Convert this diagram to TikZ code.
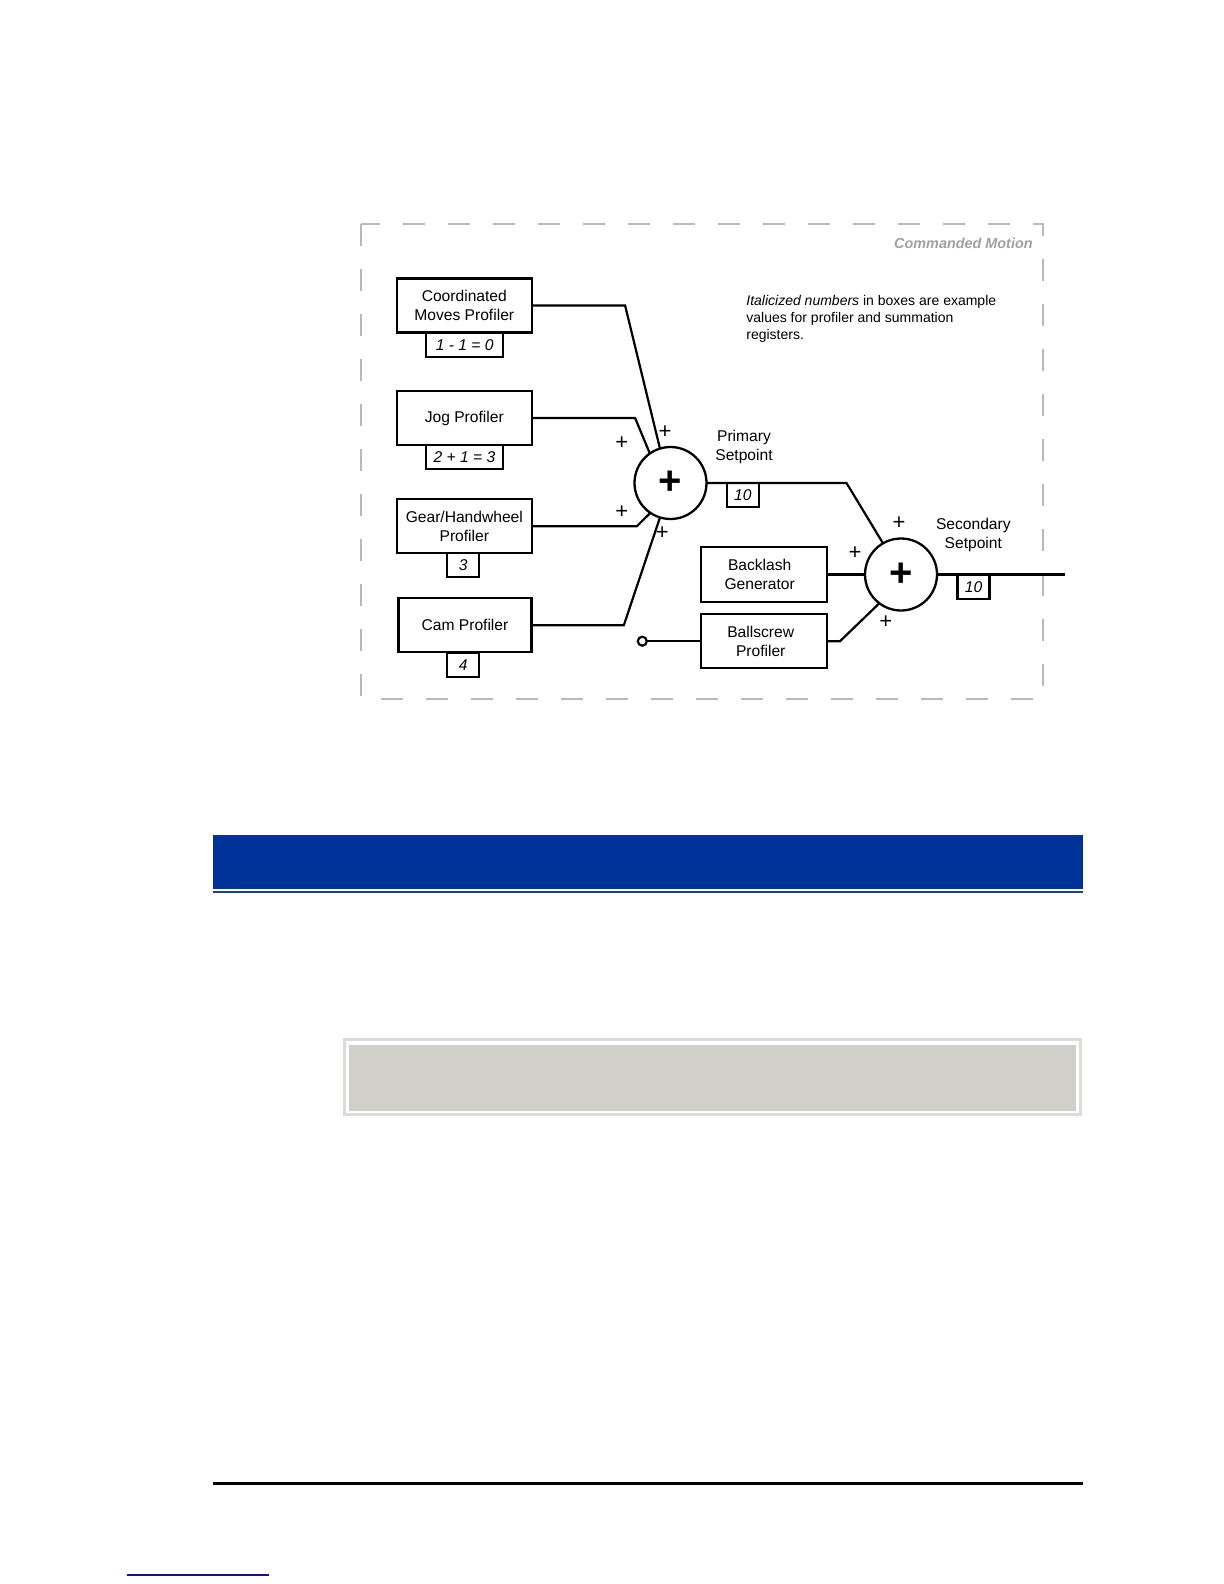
\documentclass[tikz,border=0pt]{standalone}
\usepackage{fontspec}
\setmainfont{Liberation Sans}
\newcommand\boxfont{\fontsize{7.8}{9.7}\selectfont}
\newcommand\notefont{\fontsize{7}{8.5}\selectfont}
\newcommand\cmfont{\fontsize{7.2}{8.5}\selectfont\bfseries\itshape}
\newcommand\plusfont{\fontsize{11}{11}\selectfont}
\newcommand\bigplusfont{\fontsize{20}{20}\selectfont\bfseries}
\definecolor{barblue}{RGB}{0,51,153}
\definecolor{barline}{RGB}{27,68,140}
\definecolor{panelgrey}{RGB}{209,207,201}
\definecolor{panelframe}{RGB}{220,220,218}
\definecolor{framegrey}{RGB}{185,185,185}
\definecolor{cmgrey}{RGB}{160,160,160}
\definecolor{linknavy}{RGB}{20,20,130}
\begin{document}
\begin{tikzpicture}[x=0.5pt,y=-0.5pt,
  box/.style={draw,line width=1.15pt,inner sep=0pt,outer sep=0pt,minimum width=67.5pt,minimum height=27pt,align=center,font=\boxfont},
  val/.style={draw,line width=1.15pt,inner sep=0pt,outer sep=0pt,minimum height=12pt,font=\boxfont\itshape},
  sum/.style={draw,circle,line width=1.15pt,inner sep=0pt,outer sep=0pt,minimum size=36pt,font=\bigplusfont},
  wire/.style={line width=1.1pt},
  pl/.style={font=\plusfont,inner sep=0pt},
  lbl/.style={font=\boxfont,align=center,inner sep=0pt}]
\useasboundingbox (0,0) rectangle (1224,1584);

% frame
\draw[framegrey,line width=0.75pt,dash pattern=on 11pt off 11.5pt] (361,224) rectangle (1043,699);
\node[font=\cmfont,text=cmgrey,anchor=east,inner sep=0pt] (cmt) at (1033,243) {Commanded Motion};
\node[font=\notefont,align=left,anchor=west,inner sep=0pt] (note) at (746,318.5) {\textit{Italicized numbers} in boxes are example\\values for profiler and summation\\registers.};

% profilers
\node[box] (cm) at (464.3,305.5) {Coordinated\\Moves Profiler};
\node[val,minimum width=38.5pt] (cmv) at (464.7,344.7) {1 - 1 = 0};
\node[box] (jog) at (464.3,418) {Jog Profiler};
\node[val,minimum width=38.5pt] (jogv) at (464.5,457) {2 + 1 = 3};
\node[box] (gear) at (464.3,526.3) {Gear/Handwheel\\Profiler};
\node[val,minimum width=16pt] (gearv) at (463.2,565.3) {3};
\node[box,minimum width=66.5pt] (cam) at (465,625.3) {Cam Profiler};
\node[val,minimum width=16pt] (camv) at (463.2,664.8) {4};

% summing junctions
\node[sum] (s1) at (670.5,483) {+};
\node[sum] (s2) at (901,574.5) {+};
\node[box,minimum width=63pt,minimum height=27.5pt] (bl) at (763.7,574.5) {Backlash\hspace*{4pt}\\Generator\hspace*{4pt}};
\node[box,minimum width=63pt] (bs) at (763.7,641.2) {Ballscrew\hspace*{3pt}\\Profiler\hspace*{3pt}};
\node[val,minimum width=16pt] (v1) at (742.8,495.3) {10};
\node[val,minimum width=16pt] (v2) at (973.5,587) {10};
\node[draw,circle,line width=1.1pt,minimum size=4.5pt,inner sep=0pt,outer sep=0pt] (oc) at (642.3,641.2) {};
\coordinate (out) at (1065,574.5);

% wires
\draw[wire] (cm.east) -- ++(93.3,0) -- (s1.107);
\draw[wire] (jog.east) -- ++(103.3,0) -- (s1.125);
\draw[wire] (gear.east) -- ++(105,0) -- (s1.236);
\draw[wire] (cam.east) -- ++(92.3,0) -- (s1.253);
\draw[wire] (s1.east) -- ++(140,0) -- (s2.120);
\draw[wire] (bl.east) -- (s2.west);
\draw[wire] (bs.east) -- ++(13.3,0) -- (s2.233);
\draw[wire] (s2.east) -- (out);
\draw[wire] (oc.east) -- (bs.west);

% signs
\node[pl] (p1) at (665,431.7) {+};
\node[pl] (p2) at (621.7,443.3) {+};
\node[pl] (p3) at (621.7,511.7) {+};
\node[pl] (p4) at (662.3,532.7) {+};
\node[pl] (p5) at (899,522.7) {+};
\node[pl] (p6) at (855,553.3) {+};
\node[pl] (p7) at (885.7,621.7) {+};

\node[lbl] (ps) at (744,447) {Primary\\Setpoint};
\node[lbl] (ss) at (973.3,535) {Secondary\\Setpoint};

% page furniture
\fill[barblue] (212.7,835) rectangle (1083,889);
\fill[barline] (212.7,890.7) rectangle (1083,893);
\draw[panelframe,line width=1.5pt] (344.5,1039.5) rectangle (1080.5,1114.5);
\fill[panelgrey] (349,1045) rectangle (1076,1110.7);
\draw[line width=1.5pt] (212.7,1483.5) -- (1083,1483.5);
\draw[linknavy,line width=0.6pt] (126.7,1575) -- (269,1575);
\end{tikzpicture}
\end{document}
